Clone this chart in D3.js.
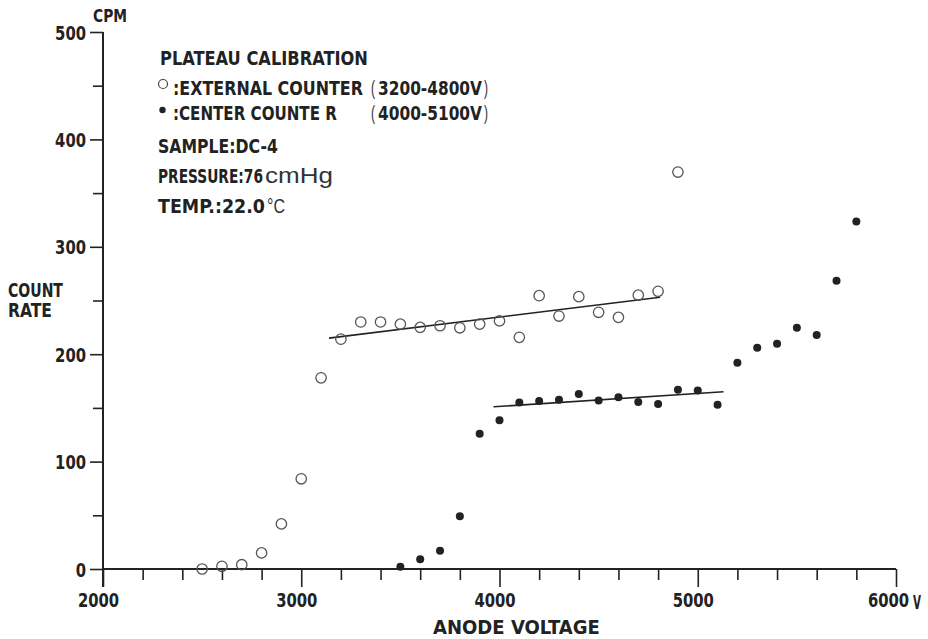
<!DOCTYPE html>
<html><head><meta charset="utf-8">
<script src="https://cdn.jsdelivr.net/npm/d3@7"></script>
<style>
html,body{margin:0;padding:0;background:#fff;}
svg{display:block;}
.b{font-family:"DejaVu Sans Condensed","Liberation Sans Narrow","DejaVu Sans",sans-serif;font-weight:bold;fill:#222;}
.r{font-family:"Liberation Sans","DejaVu Sans",sans-serif;font-weight:normal;fill:#333;}
</style></head>
<body>
<svg id="c" width="928" height="639"></svg>
<script>
// ---- data ----
const extVolts = [2500,2600,2700,2800,2900,3000,3100,3200,3300,3400,3500,3600,3700,3800,3900,4000,4100,4200,4300,4400,4500,4600,4700,4800,4900];
const extCounts = [0,2.5,4,15,42,84,178,214,230,230,228,225,226.5,224.6,228,231,215.7,254.5,235.5,253.6,239,234.3,255,258.6,369.6];
const ctrVolts = [3500,3600,3700,3800,3900,4000,4100,4200,4300,4400,4500,4600,4700,4800,4900,5000,5100,5200,5300,5400,5500,5600,5700,5800];
const ctrCounts = [2,9,17,49,126,138.5,155,156.5,157.5,163,157,160,155.6,153.7,166.8,166.2,153,192,206,209.7,224.6,217.8,268.5,323.5];
const extFitV = [3140,4810];
const extFitC = [215,253];
const ctrFitV = [3970,5130];
const ctrFitC = [151,165];
const xMajor = [2000,3000,4000,5000,6000];
const xMinor = [2200,2400,2600,2800,3200,3400,3600,3800,4200,4400,4600,4800,5200,5400,5600,5800];
const yMajor = [0,100,200,300,400,500];
const yMinor = [50,150,250,350,450];

const svg = d3.select("#c");
const x = d3.scaleLinear().domain([2000,6000]).range([103,896]);
const y = d3.scaleLinear().domain([0,500]).range([569,32]);
const ink = "#222";

// condense a text node horizontally to a target width, anchored at (ax, ay)
function condense(sel, ax, ay, W){
  const node = sel.node();
  const w = node.getComputedTextLength();
  const s = w > 0 ? W / w : 1;
  sel.attr("x",0).attr("y",0).attr("transform",`translate(${ax},${ay}) scale(${s},1)`);
}

// axes
const gx = svg.append("g").attr("transform",`translate(0,${y(0)})`);
gx.call(d3.axisBottom(x).tickValues(xMinor).tickSize(11).tickFormat(""));
const gx2 = svg.append("g").attr("transform",`translate(0,${y(0)})`);
gx2.call(d3.axisBottom(x).tickValues(xMajor).tickSize(18).tickPadding(3).tickFormat(d3.format("d")));
const gy = svg.append("g").attr("transform",`translate(${x(2000)},0)`);
gy.call(d3.axisLeft(y).tickValues(yMinor).tickSize(10).tickFormat(""));
const gy2 = svg.append("g").attr("transform",`translate(${x(2000)},0)`);
gy2.call(d3.axisLeft(y).tickValues(yMajor).tickSize(13).tickPadding(4).tickFormat(d3.format("d")));
[gx,gx2,gy,gy2].forEach(g=>{
  g.selectAll("path.domain").attr("stroke",ink).attr("stroke-width",2);
  g.selectAll(".tick line").attr("stroke",ink).attr("stroke-width",1.6);
  g.selectAll("text").attr("class","b").attr("font-size",20).attr("fill",ink);
});
[gx,gy].forEach(g=>g.selectAll("path.domain").attr("stroke-width",0));
gx2.selectAll("path.domain").attr("d",`M${x(2000)},0H${x(6000)}`);
gy2.selectAll("path.domain").attr("d",`M0,${y(500)}V${y(0)+18}`);
gx2.selectAll(".tick text").each(function(d){
  const t = d3.select(this);
  t.attr("dy",null);
  condense(t, d===6000?-8:-5, 38, this.textContent.length*10.3);
});
gy2.selectAll(".tick text").each(function(d){
  const t = d3.select(this);
  t.attr("dy",null);
  condense(t, -17, 7, this.textContent.length*10.3);
});

// fit lines
const line = d3.line().x(d=>x(d[0])).y(d=>y(d[1]));
svg.append("path").attr("d",line(d3.zip(extFitV,extFitC))).attr("stroke",ink).attr("stroke-width",1.6).attr("fill","none");
svg.append("path").attr("d",line(d3.zip(ctrFitV,ctrFitC))).attr("stroke",ink).attr("stroke-width",1.6).attr("fill","none");

// points
svg.append("g").selectAll("circle").data(d3.zip(extVolts,extCounts)).join("circle")
  .attr("cx",d=>x(d[0])).attr("cy",d=>y(d[1])).attr("r",5.2)
  .attr("fill","none").attr("stroke","#555").attr("stroke-width",1.3);
svg.append("g").selectAll("circle").data(d3.zip(ctrVolts,ctrCounts)).join("circle")
  .attr("cx",d=>x(d[0])).attr("cy",d=>y(d[1])).attr("r",4)
  .attr("fill","#222");

// text helper: str placed at (x0, baseline yb) squeezed to width W
function T(str,x0,yb,W,size,cls){
  const t = svg.append("text").attr("class",cls||"b").attr("font-size",size).text(str);
  condense(t,x0,yb,W);
  return t;
}
// axis titles
T("CPM",93,22,34,18);
T("COUNT",8,297,55,19);
T("RATE",8,317,44,19);
T("ANODE VOLTAGE",433,634,167,19);
T("V",913,609,8,20);

// legend block
T("PLATEAU CALIBRATION",160,65,208,20);
svg.append("circle").attr("cx",163).attr("cy",84).attr("r",4.5).attr("fill","none").attr("stroke","#444").attr("stroke-width",1.2);
T(":EXTERNAL COUNTER",173,95,190,20);
T("(",371,95,4,20,"r");
T("3200-4800V",378,95,104,20);
T(")",484,95,4,20,"r");
svg.append("circle").attr("cx",162.5).attr("cy",110).attr("r",3.2).attr("fill","#222");
T(":CENTER COUNTE R",173,120,164,20);
T("(",371,120,4,20,"r");
T("4000-5100V",378,120,104,20);
T(")",484,120,4,20,"r");
T("SAMPLE:DC-4",158,153,120,20);
T("PRESSURE:76",158,183,105,20);
T("cmHg",265,183,68,22,"r");
T("TEMP.:22.0",158,213,107,20);
T("°C",267,213,18,20,"r");
</script>
</body></html>
